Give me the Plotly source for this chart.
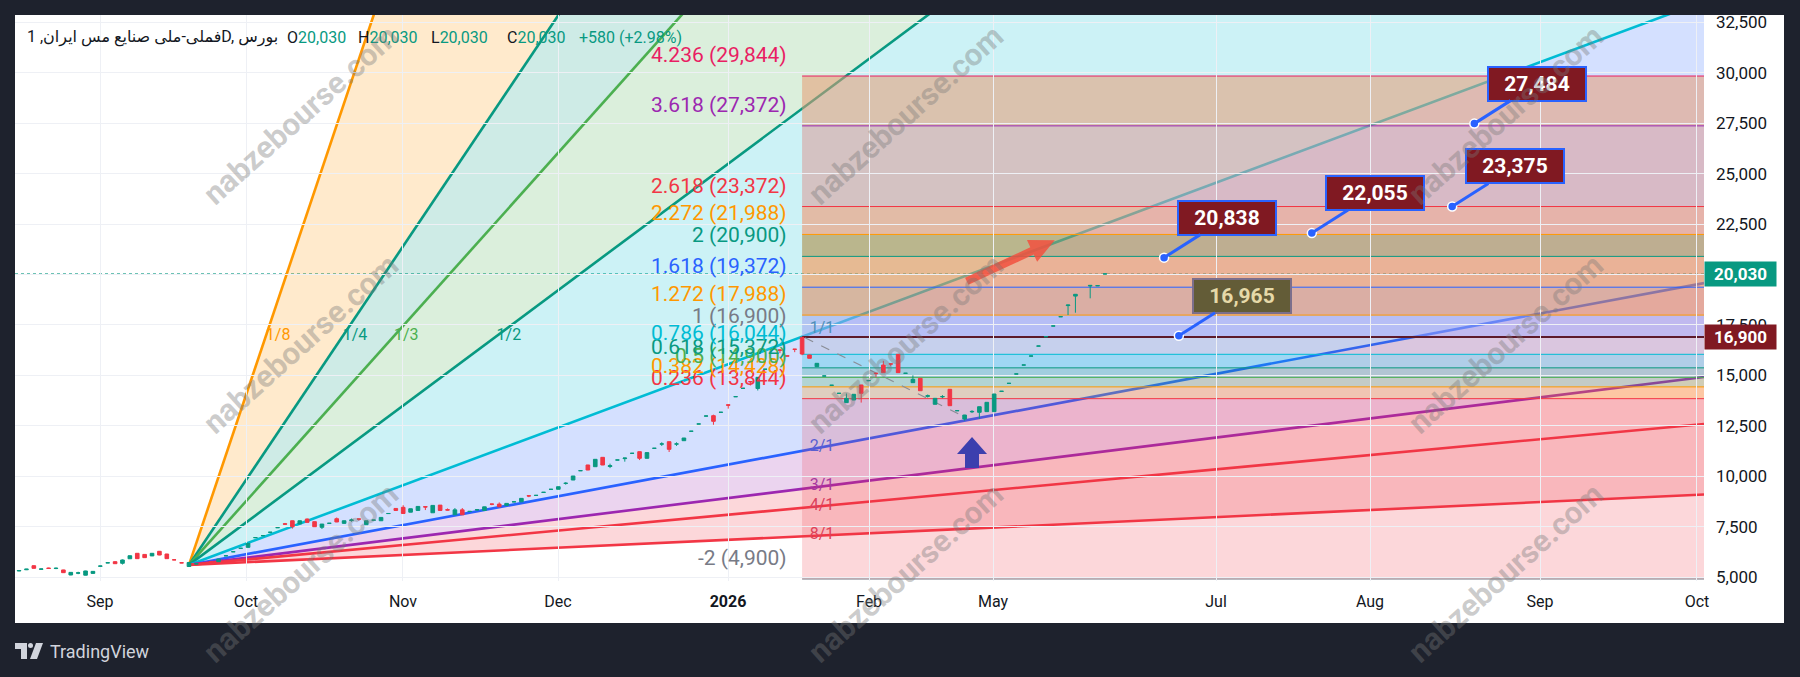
import numpy as np
import plotly.graph_objects as go

# ---------------- data ----------------
bar_x = list(range(0, 144)) + [145, 146, 147]
opens = [5300,5360,5560,5380,5445,5420,5350,5100,5190,5090,5180,5535,5700,5760,5680,5905,6175,6120,6045,6275,
         6140,5855,5705,5520,5650,5690,5770,5760,6050,6250,6420,6470,6950,7050,7215,7445,7640,7790,7630,7875,
         7745,7465,7660,7890,7660,7800,7880,7595,7815,7790,8145,8400,8455,8215,8300,8490,8185,8565,8340,8085,
         8330,8245,8325,8300,8620,8615,8550,8725,8730,9030,9045,9195,9345,9350,9640,9810,10270,10555,10470,10935,
         10480,10800,10870,11130,11216,10886,11380,11590,11710,11590,11760,12225,12585,12980,13000,13165,13540,13940,14355,14690,
         14350,15300,15800,16260,15965,16300,16886,16010,15430,14965,14505,14105,13647,13778,14522,14735,15110,15513,15570,16043,
         15100,14638,14853,13960,13565,13935,14308,13245,12835,13190,13167,13200,13200,14205,14600,15065,15510,15955,16450,16915,
         17445,17905,18460,18930,19430,19440,20030]
highs = [5335,5400,5580,5410,5460,5470,5360,5240,5260,5310,5290,5550,5710,5780,5870,6060,6185,6130,6180,6290,
         6150,5860,5710,5730,5660,5700,5780,5900,6060,6260,6430,6680,6960,7060,7225,7455,7680,7800,7800,7900,
         7750,7630,7670,7950,7800,7900,7885,7795,7830,7960,8155,8410,8560,8390,8505,8495,8555,8570,8400,8420,
         8420,8260,8340,8485,8625,8700,8655,8735,8905,9060,9055,9205,9355,9480,9700,10010,10280,10560,10840,10940,
         10620,10810,10905,11140,11220,11175,11390,11680,11715,11680,11895,12235,12595,12990,13050,13175,13545,13950,14365,14695,
         14910,15310,15810,16265,15970,16305,16900,16020,15600,14975,14515,14115,14100,14065,14530,14745,15115,15720,15575,16050,
         15110,15000,14860,14050,13865,14020,14315,13255,13040,13270,13450,13665,14080,14215,14610,15075,15520,15965,16460,16925,
         17455,17915,18495,19020,19480,19455,20030]
lows = [5290,5345,5420,5370,5420,5390,5200,5090,5140,5080,5170,5520,5690,5650,5620,5900,5905,5955,6040,6080,
        5905,5840,5690,5500,5640,5670,5750,5750,6040,6240,6410,6460,6940,7040,7205,7435,7615,7400,7620,7700,
        7490,7380,7650,7720,7650,7740,7790,7590,7810,7780,8140,8290,8145,8210,8295,8320,8180,8295,8300,8080,
        8080,8240,8320,8295,8560,8475,8545,8720,8725,8960,9040,9190,9340,9345,9580,9805,10265,10300,10465,10550,
        10400,10795,10720,11125,10800,10880,11375,11500,11200,11500,11755,12220,12580,12975,12550,13160,13350,13935,14350,14500,
        14250,15290,15790,16100,15955,16150,16000,15840,15425,14960,14500,14100,13640,13770,13650,14730,14900,15130,15450,15130,
        15095,14630,14230,13900,13560,13870,13490,13240,12750,13130,12850,13195,13195,14200,14595,15060,15505,15950,16445,16910,
        17440,17900,17990,18107,18820,19435,20030]
closes = [5320,5390,5430,5400,5425,5435,5215,5230,5205,5300,5280,5545,5705,5660,5845,6055,5910,5960,6175,6090,
          5910,5850,5700,5720,5655,5680,5760,5890,6055,6255,6425,6670,6955,7055,7220,7450,7620,7495,7790,7710,
          7495,7625,7665,7730,7790,7830,7870,7790,7825,7955,8150,8300,8150,8385,8500,8470,8550,8300,8320,8330,
          8085,8255,8335,8480,8610,8480,8650,8730,8900,9020,9050,9200,9350,9478,9650,10009,10275,10306,10836,10554,
          10520,10805,10900,11135,10886,11170,11385,11600,11331,11600,11893,12230,12590,12985,12720,13170,13520,13945,14360,14685,
          14900,15305,15805,16250,15960,16290,16059,15845,15597,14970,14510,14110,13860,14060,14109,14740,15090,15133,15560,15133,
          15105,14803,14238,13990,13860,13950,13495,13250,13033,13210,13445,13663,14075,14210,14605,15070,15515,15960,16455,16920,
          17450,17910,18488,19019,19460,19450,20030]

last_price = 20030
price_ticks = [5000, 7500, 10000, 12500, 15000, 17500, 20000, 22500, 25000, 27500, 30000, 32500]
month_tick_pos = [10.96, 30.72, 51.97, 72.96, 95.97, 115.06, 131.85, 162.03, 182.88, 205.9, 227.14]
month_tick_text = ["Sep", "Oct", "Nov", "Dec", "<b>2026</b>", "Feb", "May", "Jul", "Aug", "Sep", "Oct"]
x_range = [-0.55, 228.09]
y_range = [4802, 32870]

# Gann fan
gann_origin_x = 23
gann_origin_y = 5600
gann_unit_slope = 136.3
gann_names = ["1/8", "1/4", "1/3", "1/2", "1/1", "2/1", "3/1", "4/1", "8/1"]
gann_factor = [8, 4, 3, 2, 1, 1/2, 1/3, 1/4, 1/8]
gann_colors = ["#FF9800", "#089981", "#4CAF50", "#089981", "#00BCD4", "#2962FF", "#9C27B0", "#F23645", "#F23645"]
gann_label_colors = ["#FF9800", "#089981", "#4CAF50", "#089981", "#4f8fb8", "#5a5fd0", "#a8389e", "#d9405c", "#de4258"]
gann_fill_colors = ["rgba(255,152,0,0.2)", "rgba(8,153,129,0.2)", "rgba(76,175,80,0.2)", "rgba(0,188,212,0.2)",
                    "rgba(41,98,255,0.2)", "rgba(156,39,176,0.2)", "rgba(242,54,69,0.2)", "rgba(242,54,69,0.2)"]
gann_label_ref_x = 108.7
gann_label_ref_y = 16951

# Fibonacci
fib_start_x = 106
fib_base = 12900
fib_one = 16900
fib_levels = [-2, 0.236, 0.382, 0.5, 0.618, 0.786, 1, 1.272, 1.618, 2, 2.272, 2.618, 3.618, 4.236]
fib_colors = ["#787B86", "#F23645", "#FF9800", "#4CAF50", "#089981", "#00BCD4", "#787B86", "#FF9800",
              "#2962FF", "#089981", "#FF9800", "#F23645", "#9C27B0", "#E91E63"]
fib_band_colors = ["rgba(242,54,69,0.2)", "rgba(255,152,0,0.25)", "rgba(76,175,80,0.25)", "rgba(8,153,129,0.25)",
                   "rgba(0,188,212,0.25)", "rgba(120,123,134,0.15)", "rgba(157,162,239,0.55)",
                   "rgba(222,133,90,0.55)", "rgba(252,140,65,0.55)", "rgba(172,133,54,0.55)",
                   "rgba(244,142,101,0.55)", "rgba(219,155,152,0.55)", "rgba(230,155,115,0.55)"]

hline_price = 16900
trend_x = [106.4, 127.4]
trend_y = [16868, 13050]

callout_x = [155, 175, 194, 197, 157]
callout_y = [20838, 22055, 23375, 27484, 16965]
callout_text = ["20,838", "22,055", "23,375", "27,484", "16,965"]

red_arrow_tip = (140.2, 21700)
blue_arrow_tip = (129.0, 11943)

watermark_px_x = [300, 905, 1505]
watermark_px_y = [115, 344, 573]

# ---------------- layout helpers ----------------
W, H = 1800, 677
L_, R_, T_, B_ = 15, 1704, 15, 581
def px_x(x):
    return (x - L_) / (R_ - L_)
def px_y(y):
    return (B_ - y) / (B_ - T_)

FONT = "Roboto, DejaVu Sans, sans-serif"
shapes = []
annotations = []

# white chart panel
shapes.append(dict(type="rect", xref="paper", yref="paper", x0=px_x(15), x1=px_x(1784), y0=px_y(623), y1=px_y(15),
                   fillcolor="white", line=dict(width=0), layer="below"))

# Gann fan sectors and lines
far_x = x_range[1]
gann_far_y = [gann_origin_y + gann_unit_slope * f * (far_x - gann_origin_x) for f in gann_factor]
for i in range(len(gann_factor) - 1):
    path = (f"M {gann_origin_x},{gann_origin_y} L {far_x},{gann_far_y[i]} "
            f"L {far_x},{gann_far_y[i+1]} Z")
    shapes.append(dict(type="path", xref="x", yref="y", path=path, fillcolor=gann_fill_colors[i],
                       line=dict(width=0), layer="below"))
for i, f in enumerate(gann_factor):
    shapes.append(dict(type="line", xref="x", yref="y", x0=gann_origin_x, y0=gann_origin_y,
                       x1=far_x, y1=gann_far_y[i], line=dict(color=gann_colors[i], width=2.6), layer="below"))

# Fib bands and lines
fib_prices = [fib_base + L * (fib_one - fib_base) for L in fib_levels]
for i in range(len(fib_levels) - 1):
    shapes.append(dict(type="rect", xref="x", yref="y", x0=fib_start_x, x1=x_range[1],
                       y0=fib_prices[i], y1=fib_prices[i+1], fillcolor=fib_band_colors[i],
                       line=dict(width=0), layer="below"))
for i, p in enumerate(fib_prices):
    shapes.append(dict(type="line", xref="x", yref="y", x0=fib_start_x, x1=x_range[1], y0=p, y1=p,
                       line=dict(color=fib_colors[i], width=1), layer="below"))
    lvl = fib_levels[i]
    annotations.append(dict(x=fib_start_x, y=p, xref="x", yref="y", xanchor="right", yanchor="middle",
                            xshift=-13, yshift=21, showarrow=False,
                            text=f"{lvl:g} ({p:,.0f})", font=dict(family=FONT, size=21, color=fib_colors[i])))

# horizontal 16,900 line, dashed trend, dotted last price
shapes.append(dict(type="line", xref="x", yref="y", x0=fib_start_x, x1=x_range[1], y0=hline_price, y1=hline_price,
                   line=dict(color="#5d1a2b", width=2), layer="below"))
shapes.append(dict(type="line", xref="x", yref="y", x0=trend_x[0], x1=trend_x[1], y0=trend_y[0], y1=trend_y[1],
                   line=dict(color="#8a8d96", width=1.2, dash="dash"), layer="below"))
shapes.append(dict(type="line", xref="paper", yref="y", x0=0, x1=1, y0=last_price, y1=last_price,
                   line=dict(color="#089981", width=1, dash="dot"), layer="below"))

# arrows (pixel-sized drawings anchored to data)
shapes.append(dict(type="path", xref="x", yref="y", xsizemode="pixel", ysizemode="pixel",
                   xanchor=red_arrow_tip[0], yanchor=red_arrow_tip[1],
                   path="M 0,0 L -27.8,0.3 L -24.4,-7.0 L -89.7,-37.4 L -86.3,-44.6 L -21.0,-14.2 L -17.6,-21.5 Z",
                   fillcolor="rgba(242,80,62,0.85)", line=dict(width=0), layer="above"))
shapes.append(dict(type="path", xref="x", yref="y", xsizemode="pixel", ysizemode="pixel",
                   xanchor=blue_arrow_tip[0], yanchor=blue_arrow_tip[1],
                   path="M 0,0 L 15,-17 L 7,-17 L 7,-31 L -7,-31 L -7,-17 L -15,-17 Z",
                   fillcolor="#3c3fae", line=dict(width=0), layer="above"))

fig = go.Figure()

# Gann labels
up_x, up_y, up_t, up_c = [], [], [], []
lo_x, lo_y, lo_t, lo_c = [], [], [], []
for i, f in enumerate(gann_factor):
    slope = gann_unit_slope * f
    if f > 1:
        up_x.append(gann_origin_x + (gann_label_ref_y - gann_origin_y) / slope)
        up_y.append(gann_label_ref_y)
        up_t.append(gann_names[i]); up_c.append(gann_label_colors[i])
    else:
        lo_x.append(gann_label_ref_x)
        lo_y.append(gann_origin_y + slope * (gann_label_ref_x - gann_origin_x))
        lo_t.append(gann_names[i]); lo_c.append(gann_label_colors[i])
fig.add_trace(go.Scatter(x=up_x, y=up_y, mode="text", text=up_t, textposition="middle right",
                         textfont=dict(family=FONT, size=16, color=up_c), hoverinfo="skip"))
fig.add_trace(go.Scatter(x=lo_x, y=lo_y, mode="text", text=lo_t, textposition="middle center",
                         textfont=dict(family=FONT, size=16, color=lo_c), hoverinfo="skip"))

fig.add_trace(go.Candlestick(x=bar_x, open=opens, high=highs, low=lows, close=closes,
                             increasing=dict(line=dict(color="#089981", width=1), fillcolor="#089981"),
                             decreasing=dict(line=dict(color="#F23645", width=1), fillcolor="#F23645"),
                             whiskerwidth=0, hoverinfo="skip"))

fig.add_trace(go.Scatter(x=callout_x, y=callout_y, mode="markers",
                         marker=dict(size=9, color="#2962FF", line=dict(color="white", width=1.5)),
                         hoverinfo="skip"))

# callouts
for i, t in enumerate(callout_text):
    special = (t == "16,965")
    annotations.append(dict(x=callout_x[i], y=callout_y[i], xref="x", yref="y", ax=63, ay=-40,
                            showarrow=True, arrowhead=0, arrowwidth=3, arrowcolor="#2962FF", standoff=0,
                            text=f"<b>{t}</b>", width=94, height=30, borderpad=1, borderwidth=2,
                            bgcolor="#635c37" if special else "#801922",
                            bordercolor="#7c6f8c" if special else "#2962FF",
                            font=dict(family=FONT, size=21, color="#e6d9a8" if special else "white")))

# price axis labels
annotations.append(dict(x=1, y=last_price, xref="paper", yref="y", xanchor="left", yanchor="middle",
                        showarrow=False, text=f"<b>{last_price:,}</b>", bgcolor="#089981", width=71, height=24,
                        borderpad=0, font=dict(family=FONT, size=17, color="white")))
annotations.append(dict(x=1, y=hline_price, xref="paper", yref="y", xanchor="left", yanchor="middle",
                        showarrow=False, text=f"<b>{hline_price:,}</b>", bgcolor="#801922", width=71, height=24,
                        borderpad=0, font=dict(family=FONT, size=17, color="white")))

# header
annotations.append(dict(x=px_x(25), y=px_y(37), xref="paper", yref="paper", xanchor="left", yanchor="middle",
                        showarrow=False, text="فملی-ملی صنایع مس ایران, 1D, بورس",
                        font=dict(family=FONT, size=16, color="#131722")))
ohlc_labels = ["O", "H", "L", "C"]
ohlc_px = [285, 356, 429, 505]
for lab, xp in zip(ohlc_labels, ohlc_px):
    annotations.append(dict(x=px_x(xp), y=px_y(37), xref="paper", yref="paper", xanchor="left", yanchor="middle",
                            showarrow=False, text=f"{lab}<span style='color:#089981'>{last_price:,}</span>",
                            font=dict(family=FONT, size=16, color="#131722")))
annotations.append(dict(x=px_x(577), y=px_y(37), xref="paper", yref="paper", xanchor="left", yanchor="middle",
                        showarrow=False, text="+580 (+2.98%)", font=dict(family=FONT, size=16, color="#089981")))

# watermarks
for wy in watermark_px_y:
    for wx in watermark_px_x:
        annotations.append(dict(x=px_x(wx), y=px_y(wy), xref="paper", yref="paper", showarrow=False,
                                xanchor="center", yanchor="middle",
                                text="<b>nabzebourse.com</b>", textangle=-42,
                                font=dict(family=FONT, size=31, color="rgba(120,120,120,0.38)")))

# TradingView footer
annotations.append(dict(x=px_x(48), y=px_y(651), xref="paper", yref="paper", xanchor="left", yanchor="middle",
                        showarrow=False, text="TradingView", font=dict(family=FONT, size=18, color="#d1d4dc")))
def pp(x, y):
    return f"{px_x(x)},{px_y(y)}"
shapes.append(dict(type="path", xref="paper", yref="paper",
                   path=f"M {pp(15,643)} L {pp(27,643)} L {pp(27,659)} L {pp(21,659)} L {pp(21,649)} L {pp(15,649)} Z",
                   fillcolor="#d1d4dc", line=dict(width=0), layer="above"))
shapes.append(dict(type="circle", xref="paper", yref="paper", x0=px_x(28), x1=px_x(33), y0=px_y(648), y1=px_y(643),
                   fillcolor="#d1d4dc", line=dict(width=0), layer="above"))
shapes.append(dict(type="path", xref="paper", yref="paper",
                   path=f"M {pp(36,643)} L {pp(43,643)} L {pp(37,659)} L {pp(30,659)} Z",
                   fillcolor="#d1d4dc", line=dict(width=0), layer="above"))

fig.update_layout(
    width=W, height=H, autosize=False,
    margin=dict(l=L_, r=W - R_, t=T_, b=H - B_),
    paper_bgcolor="#1e222d", plot_bgcolor="white",
    showlegend=False, hovermode=False,
    shapes=shapes, annotations=annotations,
    xaxis=dict(range=x_range, tickvals=month_tick_pos, ticktext=month_tick_text, showgrid=True,
               gridcolor="#eef0f5", zeroline=False, ticks="", ticklabelstandoff=9,
               tickfont=dict(family=FONT, size=16, color="#131722"), rangeslider=dict(visible=False),
               fixedrange=True),
    yaxis=dict(range=y_range, side="right", tickvals=price_ticks, ticktext=[f"{v:,}" for v in price_ticks],
               showgrid=True, gridcolor="#eef0f5", zeroline=False, ticks="", ticklabelstandoff=11,
               tickfont=dict(family=FONT, size=17, color="#131722"), fixedrange=True),
)

fig.write_html("out.html", config={"displayModeBar": False})
